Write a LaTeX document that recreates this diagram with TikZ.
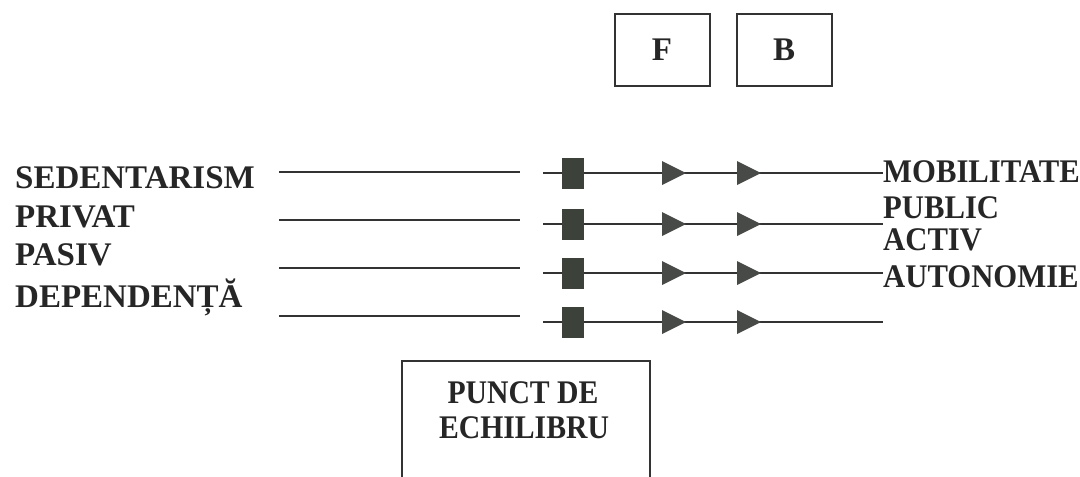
\documentclass[tikz,border=0pt]{standalone}
\usepackage{fontspec}
\setmainfont{Liberation Serif}
\usetikzlibrary{calc}
\definecolor{lncol}{HTML}{333333}
\definecolor{sqcol}{HTML}{3C4139}
\definecolor{tricol}{HTML}{474A46}
\definecolor{txtcol}{HTML}{262626}
\begin{document}
\begin{tikzpicture}[x=1pt,y=-1pt,
  ln/.style={line width=2pt, draw=lncol},
  sq/.style={fill=sqcol, minimum width=22pt, minimum height=31pt, inner sep=0pt, draw=none},
  tri/.style={fill=tricol},
  lbl/.style={font=\bfseries\fontsize{33}{39}\selectfont, text=txtcol, inner sep=0pt, anchor=base west},
  lblR/.style={lbl, xscale=0.93},
  boxed/.style={draw=lncol, line width=2pt, font=\bfseries\fontsize{33}{39}\selectfont, text=txtcol, inner sep=0pt},
]
\useasboundingbox (0,0) rectangle (1080,477);
\clip (0,0) rectangle (1080,477);
\fill[white] (0,0) rectangle (1080,477);

% top boxes
\node[boxed, minimum width=95pt, minimum height=72pt] (F) at (662,50) {F};
\node[boxed, minimum width=95pt, minimum height=72pt] (B) at (784,50) {B};

% left labels
\node[lbl] (sed) at (15,188) {SEDENTARISM};
\node[lbl] (priv) at (15,227) {PRIVAT};
\node[lbl] (pas) at (15,265) {PASIV};
\node[lbl] (dep) at (15,307) {DEPENDENȚĂ};

% right labels
\node[lblR] (mob) at (883,182) {MOBILITATE};
\node[lblR] (pub) at (883,218) {PUBLIC};
\node[lblR] (act) at (883,250) {ACTIV};
\node[lblR] (aut) at (883,287) {AUTONOMIE};

% left line coordinates
\foreach \i/\y in {1/172,2/220,3/268,4/316}{
  \coordinate (L\i s) at (279,\y);
  \coordinate (L\i e) at (520,\y);
}
% right line coordinates
\foreach \i/\y in {1/173,2/224,3/273,4/322}{
  \coordinate (R\i s) at (543,\y);
  \coordinate (R\i e) at (883,\y);
  \coordinate (T\i a) at (686,\y);
  \coordinate (T\i b) at (761,\y);
}

\foreach \i in {1,2,3,4}{
  \draw[ln] (L\i s) -- (L\i e);
  \draw[ln] (R\i s) -- (R\i e);
}
\foreach \i in {1,2,3,4}{
  \node[sq] (S\i) at ($(R\i s)+(30,0)$) {};
}
\foreach \i in {1,2,3,4}{
  \fill[tri] (T\i a) -- ++(-24,-12) -- ++(0,24) -- cycle;
  \fill[tri] (T\i b) -- ++(-24,-12) -- ++(0,24) -- cycle;
}

% equilibrium box
\node[boxed, minimum width=248pt, minimum height=150pt, anchor=north west] (punct) at (401,360) {};
\node[lbl, anchor=base, xscale=0.9] (punct1) at (523,403) {PUNCT DE};
\node[lbl, anchor=base, xscale=0.9] (punct2) at (524,438) {ECHILIBRU};
\end{tikzpicture}
\end{document}
